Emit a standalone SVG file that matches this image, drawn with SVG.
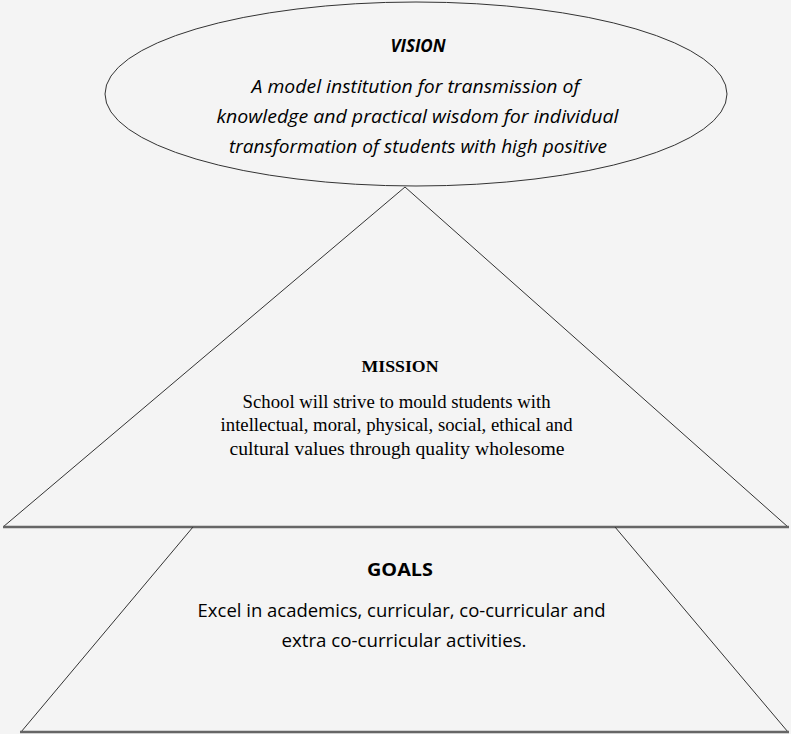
<svg xmlns="http://www.w3.org/2000/svg" width="791" height="734" viewBox="0 0 791 734">
<style>
.shape{fill:none;stroke:#333;stroke-width:1}
.base{stroke:#666;stroke-width:2.5}
.cal{font-family:"Open Sans","Liberation Sans",sans-serif;fill:#000;text-anchor:middle}
.tms{font-family:"Liberation Serif","Times New Roman",serif;fill:#000;text-anchor:middle}
</style>
<rect width="791" height="734" fill="#f4f4f4"/>
<g id="connectors">
<line class="shape" x1="405" y1="187" x2="3" y2="527"/>
<line class="shape" x1="405" y1="187" x2="788" y2="527"/>
<line class="shape base" x1="3" y1="527" x2="789" y2="527"/>
<line class="shape" x1="193" y1="527" x2="21" y2="732"/>
<line class="shape" x1="615" y1="527" x2="788" y2="732"/>
<line class="shape base" x1="20" y1="732" x2="789" y2="732"/>
</g>
<g id="vision">
<ellipse class="shape" cx="416" cy="94" rx="311" ry="92" fill="#f4f4f4" stroke="#444" stroke-width="1.2"/>
<text class="cal" x="418" y="52" font-size="17" font-weight="bold" font-style="italic">VISION</text>
<text class="cal" font-size="19" font-style="italic">
<tspan x="418" y="93" textLength="328" lengthAdjust="spacingAndGlyphs">A model institution for transmission of</tspan>
<tspan x="420" y="123" textLength="402" lengthAdjust="spacingAndGlyphs">knowledge and practical wisdom for individual</tspan>
<tspan x="418" y="153" textLength="378" lengthAdjust="spacingAndGlyphs">transformation of students with high positive</tspan>
</text>
</g>
<g id="mission">
<text class="tms" x="400" y="372" font-size="17" font-weight="bold" textLength="77" lengthAdjust="spacingAndGlyphs">MISSION</text>
<text class="tms" font-size="19.5">
<tspan x="399" y="408" textLength="308" lengthAdjust="spacingAndGlyphs">School will strive to mould students with</tspan>
<tspan x="399" y="431" textLength="352" lengthAdjust="spacingAndGlyphs">intellectual, moral, physical, social, ethical and</tspan>
<tspan x="397" y="455" textLength="335" lengthAdjust="spacingAndGlyphs">cultural values through quality wholesome</tspan>
</text>
</g>
<g id="goals">
<text class="cal" x="400" y="576" font-size="17" font-weight="bold" textLength="66" lengthAdjust="spacingAndGlyphs">GOALS</text>
<text class="cal" font-size="18.5">
<tspan x="404" y="617" textLength="408" lengthAdjust="spacingAndGlyphs">Excel in academics, curricular, co-curricular and</tspan>
<tspan x="404" y="647" textLength="245" lengthAdjust="spacingAndGlyphs">extra co-curricular activities.</tspan>
</text>
</g>
</svg>
